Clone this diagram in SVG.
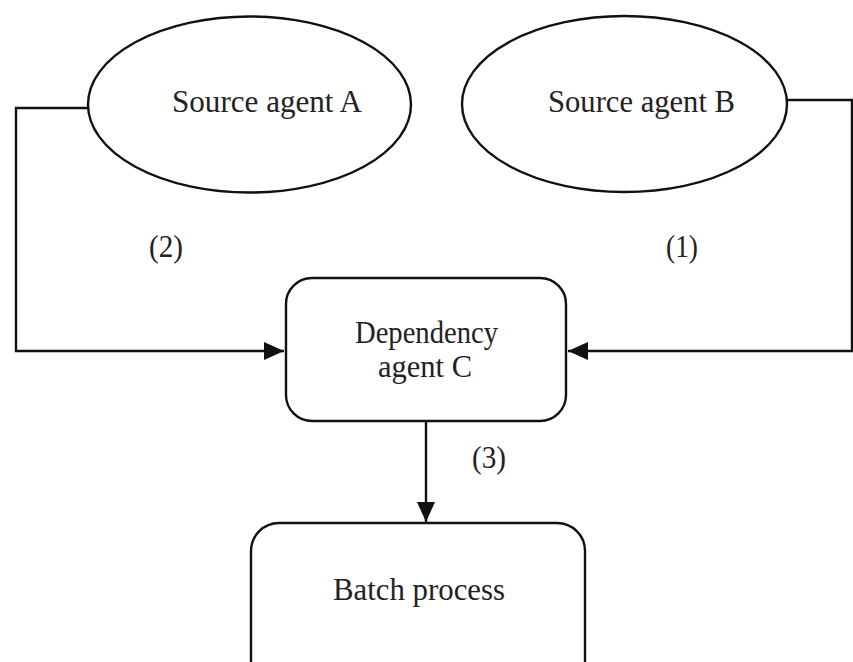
<svg xmlns="http://www.w3.org/2000/svg" width="853" height="662" viewBox="0 0 853 662">
<style>
.shape{fill:#fff;stroke:#111;stroke-width:2.4}
.conn{fill:none;stroke:#111;stroke-width:2.4}
text{font-family:"Liberation Serif","Times New Roman",serif;font-size:32px;fill:#222;text-anchor:middle}
</style>
<defs>
<marker id="arr" viewBox="0 0 20 18" refX="20" refY="9" markerWidth="20" markerHeight="18" markerUnits="userSpaceOnUse" orient="auto">
<path d="M0,0 L20,9 L0,18 z" fill="#111"/>
</marker>
</defs>
<rect width="853" height="662" fill="#fff"/>
<g id="connectors">
<path class="conn" d="M88,108 H16 V351 H284" marker-end="url(#arr)"/>
<path class="conn" d="M787,100 H852 V351 H568" marker-end="url(#arr)"/>
<path class="conn" d="M426,421 V522" marker-end="url(#arr)"/>
<text x="166" y="257" textLength="34" lengthAdjust="spacingAndGlyphs">(2)</text>
<text x="682" y="257" textLength="32" lengthAdjust="spacingAndGlyphs">(1)</text>
<text x="489" y="468" textLength="34" lengthAdjust="spacingAndGlyphs">(3)</text>
</g>
<g id="sourceA">
<ellipse class="shape" cx="249.5" cy="104.5" rx="161.5" ry="88"/>
<text x="267" y="112" textLength="190" lengthAdjust="spacingAndGlyphs">Source agent A</text>
</g>
<g id="sourceB">
<ellipse class="shape" cx="624.5" cy="104" rx="162.5" ry="88"/>
<text x="641.5" y="112" textLength="187" lengthAdjust="spacingAndGlyphs">Source agent B</text>
</g>
<g id="dependencyC">
<rect class="shape" x="286" y="278" width="280" height="143" rx="26" ry="26"/>
<text x="426.5" y="343" textLength="143" lengthAdjust="spacingAndGlyphs">Dependency</text>
<text x="425" y="377" textLength="94" lengthAdjust="spacingAndGlyphs">agent C</text>
</g>
<g id="batch">
<rect class="shape" x="251" y="523" width="334" height="170" rx="28" ry="28"/>
<text x="419" y="600" textLength="172" lengthAdjust="spacingAndGlyphs">Batch process</text>
</g>
</svg>
